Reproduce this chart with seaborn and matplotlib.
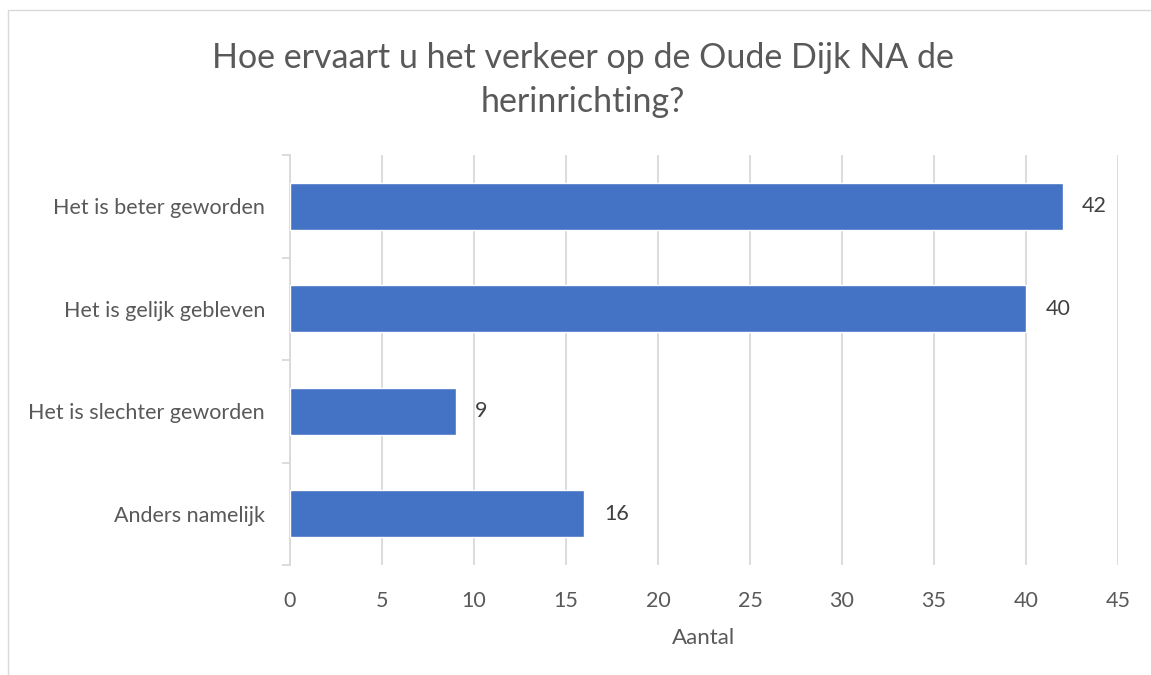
import matplotlib
matplotlib.use("Agg")
import matplotlib.pyplot as plt
import seaborn as sns
import pandas as pd
from matplotlib.patches import Rectangle

# data
categories = ['Het is beter geworden', 'Het is gelijk gebleven',
              'Het is slechter geworden', 'Anders namelijk']
counts = [42, 40, 9, 16]

df = pd.DataFrame({'Antwoord': categories, 'Aantal': counts})

sns.set_theme(style='white')
plt.rcParams['font.family'] = ['Lato', 'DejaVu Sans']
grey = '#595959'

fig = plt.figure(figsize=(11.51, 6.75), dpi=100)
ax = fig.add_axes([290 / 1151, 1 - 565 / 675, (1118 - 290) / 1151, (565 - 155) / 675])

sns.barplot(data=df, x='Aantal', y='Antwoord', color='#4472C4',
            width=0.46, saturation=1, ax=ax, zorder=3)

ax.set_xlim(0, 45)
ax.set_ylim(3.5, -0.5)
ax.set_xticks(range(0, 46, 5))
ax.grid(axis='x', color='#d9d9d9', linewidth=1.3, zorder=0)
ax.grid(axis='y', visible=False)

for side in ['top', 'right', 'bottom']:
    ax.spines[side].set_visible(False)
ax.spines['left'].set_color('#d9d9d9')
ax.spines['left'].set_linewidth(1.3)

ax.set_yticks([-0.5, 0.5, 1.5, 2.5, 3.5], minor=True)
ax.tick_params(axis='y', which='major', length=0, pad=18, labelsize=15.5, labelcolor=grey)
ax.tick_params(axis='y', which='minor', length=6, width=1.3, color='#d9d9d9', left=True)
ax.tick_params(axis='x', length=0, pad=19, labelsize=15.5, labelcolor=grey)

ax.bar_label(ax.containers[0], padding=14, fontsize=15.5, color='#404040')

ax.set_ylabel('')
ax.set_xlabel('Aantal', fontsize=16, color=grey, labelpad=12)

fig.suptitle('Hoe ervaart u het verkeer op de Oude Dijk NA de\nherinrichting?',
             x=583 / 1151, y=1 - 42 / 675, fontsize=24.5, color=grey,
             va='top', linespacing=1.45)

fig.patches.append(Rectangle((8 / 1151, -0.1), 1.2, 1 - 10 / 675 + 0.1,
                             transform=fig.transFigure, fill=False,
                             edgecolor='#d9d9d9', linewidth=1))

fig.savefig('out.png', dpi=100, facecolor='white')
